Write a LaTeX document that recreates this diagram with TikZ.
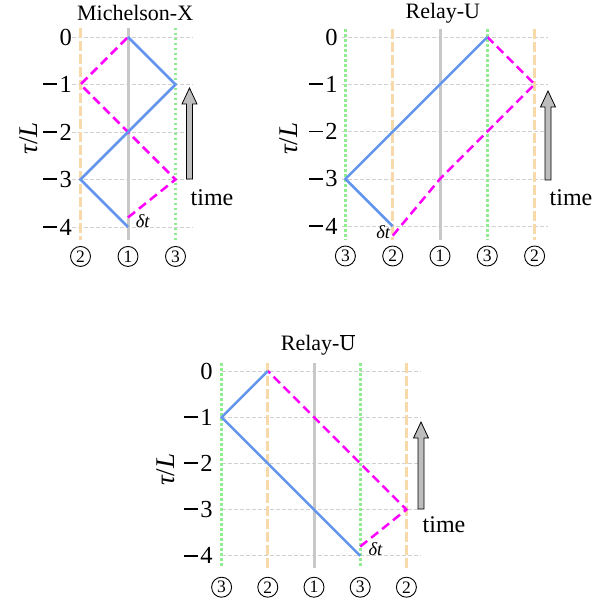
\documentclass[tikz,border=0pt]{standalone}
\usepackage{fontspec}
\setmainfont{Liberation Serif}
\definecolor{cblue}{HTML}{6495ED}
\definecolor{cmag}{HTML}{FF00FF}
\definecolor{cwheat}{HTML}{F7D9AA}
\definecolor{cgreen}{HTML}{90EE90}
\definecolor{cgrid}{HTML}{D0D0D0}
\definecolor{cone}{HTML}{C8C8C8}
\definecolor{carrow}{HTML}{BDBDBD}
\newcommand\bigf{\fontsize{22}{25}\selectfont}
\newcommand\tickf{\fontsize{24.5}{26}\selectfont}
\newcommand\timef{\fontsize{24}{26}\selectfont}
\newcommand\axf{\fontsize{27}{28}\selectfont}
\newcommand\circf{\fontsize{17.5}{18}\selectfont}
\newcommand\dtf{\fontsize{18.5}{20}\selectfont}
\newcommand\mn{\rule[0.3em]{0.57em}{0.075em}\hspace{0.1em}}
\newcommand\tauL{{\itshape τ}/{\itshape L}}
\newcommand\timearrow[3]{%
  \draw[tarrowsty] (#1-3,-#2) -- (#1-3,-#3-16) -- (#1-7.5,-#3-16) -- (#1,-#3)
    -- (#1+7.5,-#3-16) -- (#1+3,-#3-16) -- (#1+3,-#2) -- cycle;}
\tikzset{
  worldA/.style={cone, line width=3pt},
  worldB/.style={cwheat, line width=3pt, dash pattern=on 10pt off 3pt},
  worldC/.style={cgreen, line width=3pt, dash pattern=on 2.5pt off 2.5pt},
  gridln/.style={cgrid, line width=0.7pt, dash pattern=on 4pt off 2pt},
  blueln/.style={cblue, line width=2.5pt, line join=miter},
  magln/.style={cmag, line width=2.5pt, dash pattern=on 9pt off 5pt},
  circlab/.style={circle, draw, line width=0.9pt, minimum size=20pt, inner sep=0pt, font=\circf},
  ticklab/.style={anchor=east, inner sep=0pt, font=\tickf},
  titlelab/.style={font=\bigf, inner sep=0pt},
  axlab/.style={rotate=90, font=\axf, inner sep=0pt},
  dtlab/.style={font=\dtf\itshape, inner sep=0pt},
  timelab/.style={font=\timef, inner sep=0pt},
  tarrowsty/.style={fill=carrow, draw=black, line width=0.8pt, line join=miter}
}
\begin{document}
\begin{tikzpicture}[x=1pt,y=1pt]
\useasboundingbox (0,0) rectangle (616,-604);

% ---------------- Panel 1: Michelson-X
\begin{scope}[shift={(128pt,-37pt)}, x=47.5pt, y=47.5pt]
  \foreach \t in {0,...,4} \draw[gridln] (-1.18,-\t) -- (1.37,-\t);
  \node[ticklab] (p1t0) at (-1.18,0) {0};
  \node[ticklab] (p1t1) at (-1.18,-1) {\mn 1};
  \node[ticklab] (p1t2) at (-1.18,-2) {\mn 2};
  \node[ticklab] (p1t3) at (-1.18,-3) {\mn 3};
  \node[ticklab] (p1t4) at (-1.18,-4) {\mn 4};
  \draw[worldB] (-1,0.19) -- (-1,-4.27);
  \draw[worldA] (0,0.19) -- (0,-4.27);
  \draw[worldC] (1,0.19) -- (1,-4.27);
  \node[circlab] (p1c2) at (-1,-4.62) {2};
  \node[circlab] (p1c1) at (0,-4.62) {1};
  \node[circlab] (p1c3) at (1,-4.62) {3};
  \coordinate (p1a) at (0,-4);
  \coordinate (p1b) at (-1,-3);
  \coordinate (p1c) at (1,-1);
  \coordinate (p1d) at (0,0);
  \coordinate (p1e) at (0,-3.8);
  \coordinate (p1f) at (1,-3);
  \coordinate (p1g) at (-1,-1);
  \draw[magln] (p1e) -- (p1f) -- (p1g) -- (p1d);
  \draw[blueln] (p1a) -- (p1b) -- (p1c) -- (p1d);
  \node[dtlab] (p1dt) at (0.31,-3.87) {δt};
  \node[titlelab] (p1title) at (0.15,0.5) {Michelson-X};
  \node[axlab] (p1ax) at (-2.1,-2.13) {\tauL};
\end{scope}
\timearrow{189.5}{179}{88}
\node[timelab] (p1time) at (212,-198) {time};

% ---------------- Panel 2: Relay-U
\begin{scope}[shift={(440pt,-37pt)}, x=47.3pt, y=47.3pt]
  \foreach \t in {0,...,4} \draw[gridln] (-2.07,-\t) -- (2.28,-\t);
  \node[ticklab] (p2t0) at (-2.16,0) {0};
  \node[ticklab] (p2t1) at (-2.16,-1) {\mn 1};
  \node[ticklab] (p2t2) at (-2.16,-2) {\mn 2};
  \node[ticklab] (p2t3) at (-2.16,-3) {\mn 3};
  \node[ticklab] (p2t4) at (-2.16,-4) {\mn 4};
  \draw[worldC] (-2,0.16) -- (-2,-4.29);
  \draw[worldB] (-1,0.16) -- (-1,-4.29);
  \draw[worldA] (0,0.16) -- (0,-4.29);
  \draw[worldC] (1,0.16) -- (1,-4.29);
  \draw[worldB] (2,0.16) -- (2,-4.29);
  \node[circlab] (p2c3l) at (-2,-4.63) {3};
  \node[circlab] (p2c2l) at (-1,-4.63) {2};
  \node[circlab] (p2c1) at (0,-4.63) {1};
  \node[circlab] (p2c3r) at (1,-4.63) {3};
  \node[circlab] (p2c2r) at (2,-4.63) {2};
  \coordinate (p2a) at (-1,-4);
  \coordinate (p2b) at (-2,-3);
  \coordinate (p2c) at (1,0);
  \coordinate (p2e) at (-1,-4.2);
  \coordinate (p2f) at (0,-3);
  \coordinate (p2g) at (2,-1);
  \draw[magln] (p2e) -- (p2f) -- (p2g) -- (p2c);
  \draw[blueln] (p2a) -- (p2b) -- (p2c);
  \node[dtlab] (p2dt) at (-1.2,-4.12) {δt};
  \node[titlelab] (p2title) at (0.06,0.5) {Relay-U};
  \node[axlab] (p2ax) at (-3.19,-2.15) {\tauL};
\end{scope}
\timearrow{548}{180}{91}
\node[timelab] (p2time) at (571,-198) {time};

% ---------------- Panel 3: Relay-Ubar
\begin{scope}[shift={(314pt,-371pt)}, x=46.2pt, y=46.2pt]
  \foreach \t in {0,...,4} \draw[gridln] (-2.0,-\t) -- (2.29,-\t);
  \node[ticklab] (p3t0) at (-2.19,0) {0};
  \node[ticklab] (p3t1) at (-2.19,-1) {\mn 1};
  \node[ticklab] (p3t2) at (-2.19,-2) {\mn 2};
  \node[ticklab] (p3t3) at (-2.19,-3) {\mn 3};
  \node[ticklab] (p3t4) at (-2.19,-4) {\mn 4};
  \draw[worldC] (-2,0.17) -- (-2,-4.26);
  \draw[worldB] (-1,0.17) -- (-1,-4.26);
  \draw[worldA] (0,0.17) -- (0,-4.26);
  \draw[worldC] (1,0.17) -- (1,-4.26);
  \draw[worldB] (2,0.17) -- (2,-4.26);
  \node[circlab] (p3c3l) at (-2,-4.68) {3};
  \node[circlab] (p3c2l) at (-1,-4.68) {2};
  \node[circlab] (p3c1) at (0,-4.68) {1};
  \node[circlab] (p3c3r) at (1,-4.68) {3};
  \node[circlab] (p3c2r) at (2,-4.68) {2};
  \coordinate (p3a) at (1,-4);
  \coordinate (p3b) at (-2,-1);
  \coordinate (p3c) at (-1,0);
  \coordinate (p3e) at (1,-3.8);
  \coordinate (p3f) at (2,-3);
  \draw[magln] (p3e) -- (p3f) -- (p3c);
  \draw[blueln] (p3a) -- (p3b) -- (p3c);
  \node[dtlab] (p3dt) at (1.33,-3.85) {δt};
  \node[titlelab] (p3title) at (0.09,0.56) {Relay-$\overline{\mbox{U}}$};
  \node[axlab] (p3ax) at (-3.2,-2.14) {\tauL};
\end{scope}
\timearrow{421}{509}{422}
\node[timelab] (p3time) at (444,-525) {time};
\end{tikzpicture}
\end{document}
